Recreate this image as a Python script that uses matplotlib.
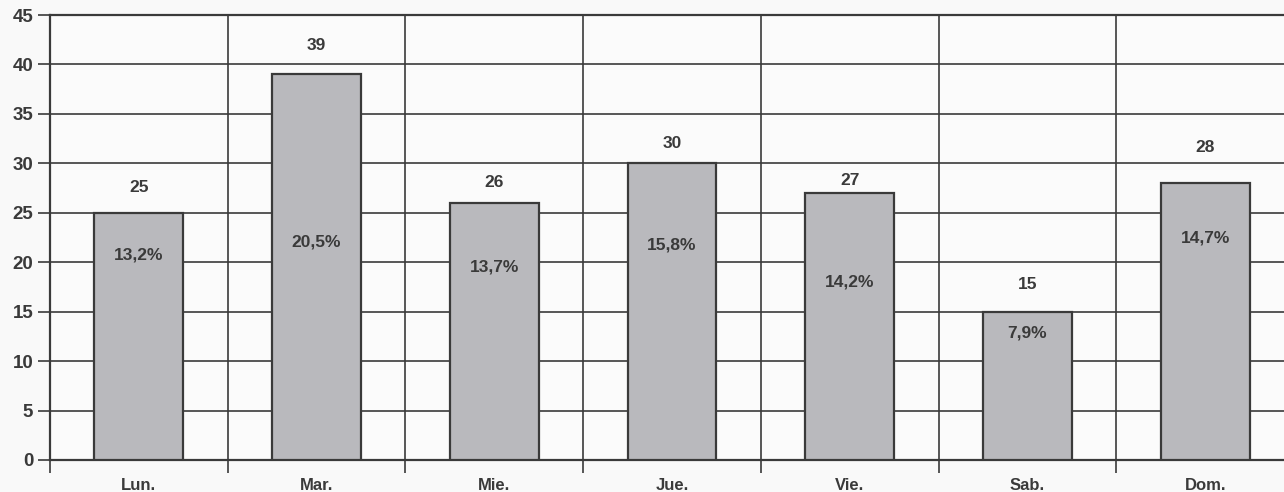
import matplotlib.pyplot as plt
import numpy as np

# Data
days = ["Lun.", "Mar.", "Mie.", "Jue.", "Vie.", "Sab.", "Dom."]
counts = [25, 39, 26, 30, 27, 15, 28]
shares = ["13,2%", "20,5%", "13,7%", "15,8%", "14,2%", "7,9%", "14,7%"]

# label placement (in data units relative to bar top)
value_offsets = [2.6, 2.9, 2.1, 2.0, 1.3, 2.7, 3.6]
share_offsets = [4.3, 17.0, 6.5, 8.3, 9.0, 2.2, 5.6]

ink = "#3a3a3a"
plt.rcParams['font.family'] = ['Liberation Sans', 'DejaVu Sans']

fig = plt.figure(figsize=(12.84, 4.92), dpi=100)
fig.patch.set_facecolor("#f9f9f9")
ax = fig.add_axes([50 / 1284, 32 / 492, 1244 / 1284, 445 / 492])
ax.set_facecolor("#fbfbfb")

x = np.arange(len(days))
ax.bar(x, counts, width=0.5, color="#b9b9bd", edgecolor=ink, linewidth=1.6, zorder=3)

for i, v in enumerate(counts):
    ax.text(x[i], v + value_offsets[i], str(v), ha="center", va="center",
            fontsize=12.5, fontweight="bold", color=ink, zorder=4)
    ax.text(x[i], v - share_offsets[i], shares[i], ha="center", va="center",
            fontsize=12.5, fontweight="bold", color=ink, zorder=4)

ax.set_xlim(-0.5, 6.5)
ax.set_ylim(0, 45)
ax.set_yticks(range(0, 46, 5))
ax.set_xticks(x)
ax.set_xticklabels(days)
ax.set_xticks(np.arange(-0.5, 7, 1), minor=True)

ax.grid(axis="y", which="major", color=ink, linewidth=1.2, zorder=1)
ax.grid(axis="x", which="minor", color=ink, linewidth=1.2, zorder=1)

ax.tick_params(axis="y", length=9, width=1.2, color=ink, pad=3,
               labelsize=13.5, labelcolor=ink)
ax.tick_params(axis="x", which="major", length=0, pad=13,
               labelsize=12, labelcolor=ink)
ax.tick_params(axis="x", which="minor", length=9, width=1.2, color=ink)
for lab in ax.get_xticklabels() + ax.get_yticklabels():
    lab.set_fontweight("bold")

for side in ["left", "bottom", "top", "right"]:
    ax.spines[side].set_color(ink)
    ax.spines[side].set_linewidth(1.6)

fig.savefig("out.png", dpi=100, facecolor=fig.get_facecolor())
